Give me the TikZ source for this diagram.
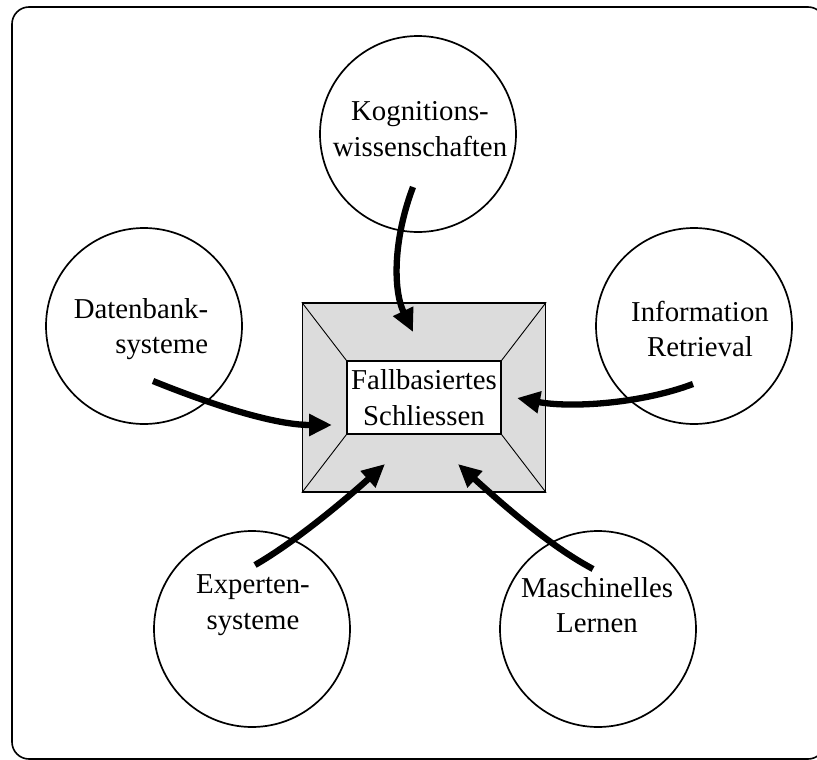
\documentclass[tikz,border=0pt]{standalone}
\usepackage{fontspec}
\setmainfont{Liberation Serif}
\usetikzlibrary{arrows.meta}
\definecolor{boxgray}{RGB}{220,220,220}
\begin{document}
\begin{tikzpicture}[x=1pt,y=-1pt,
  topic/.style={circle, draw, line width=1.7pt, minimum size=196pt, inner sep=0pt},
  lbl/.style={align=center, font=\fontsize{28.8}{35.5}\selectfont, inner sep=0pt},
  flow/.style={line width=6.3pt, -{Triangle[length=23pt,width=21pt]}},
  bevel/.style={line width=0.9pt}]
\useasboundingbox (0,0) rectangle (817,760);
% outer frame
\begin{scope}
  \clip (0,0) rectangle (817,760);
  \draw[line width=1.6pt, rounded corners=17pt] (12,7) rectangle (825,759);
\end{scope}

% central box with bevelled rim
\node[draw, fill=boxgray, line width=1.4pt, minimum width=243pt, minimum height=189pt, inner sep=0pt] (outer) at (424,397.5) {};
\node[draw, fill=white, line width=1.2pt, minimum width=154pt, minimum height=73pt, inner sep=0pt] (inner) at (424,397.5) {};
\draw[bevel] (outer.north west) -- (inner.north west);
\draw[bevel] (outer.north east) -- (inner.north east);
\draw[bevel] (outer.south west) -- (inner.south west);
\draw[bevel] (outer.south east) -- (inner.south east);
\node[lbl] (core) at (inner.center) {Fallbasiertes\\Schliessen};

% surrounding disciplines
\node[topic] (kog) at (418,134) {};
\node[topic] (dat) at (144,326) {};
\node[topic] (inf) at (694,326) {};
\node[topic] (exp) at (252,629) {};
\node[topic] (mas) at (598,629) {};

\node[lbl] (tkog) at (420,129) {Kognitions-\\wissenschaften};
\node[lbl, align=right] (tdat) at (141,329) {Datenbank-\\systeme};
\node[lbl] (tinf) at (700,329) {Information\\Retrieval};
\node[lbl] (texp) at (253,605) {Experten-\\systeme};
\node[lbl] (tmas) at (597,605) {Maschinelles\\Lernen};

% arrow ends
\coordinate (kogS) at (413,187);
\coordinate (kogE) at (413,332);
\coordinate (datS) at (153,381);
\coordinate (datE) at (332,425);
\coordinate (infS) at (693,384);
\coordinate (infE) at (517,398);
\coordinate (expS) at (255,565);
\coordinate (expE) at (385,464);
\coordinate (masS) at (593,569);
\coordinate (masE) at (458,464);

\draw[flow] (kogS) .. controls (393,240) and (393,290) .. (kogE);
\draw[flow] (datS) .. controls (200,400) and (270,425) .. (datE);
\draw[flow] (infS) .. controls (640,404) and (570,408) .. (infE);
\draw[flow] (expS) .. controls (295,542) and (345,500) .. (expE);
\draw[flow] (masS) .. controls (548,545) and (500,502) .. (masE);
\end{tikzpicture}
\end{document}
